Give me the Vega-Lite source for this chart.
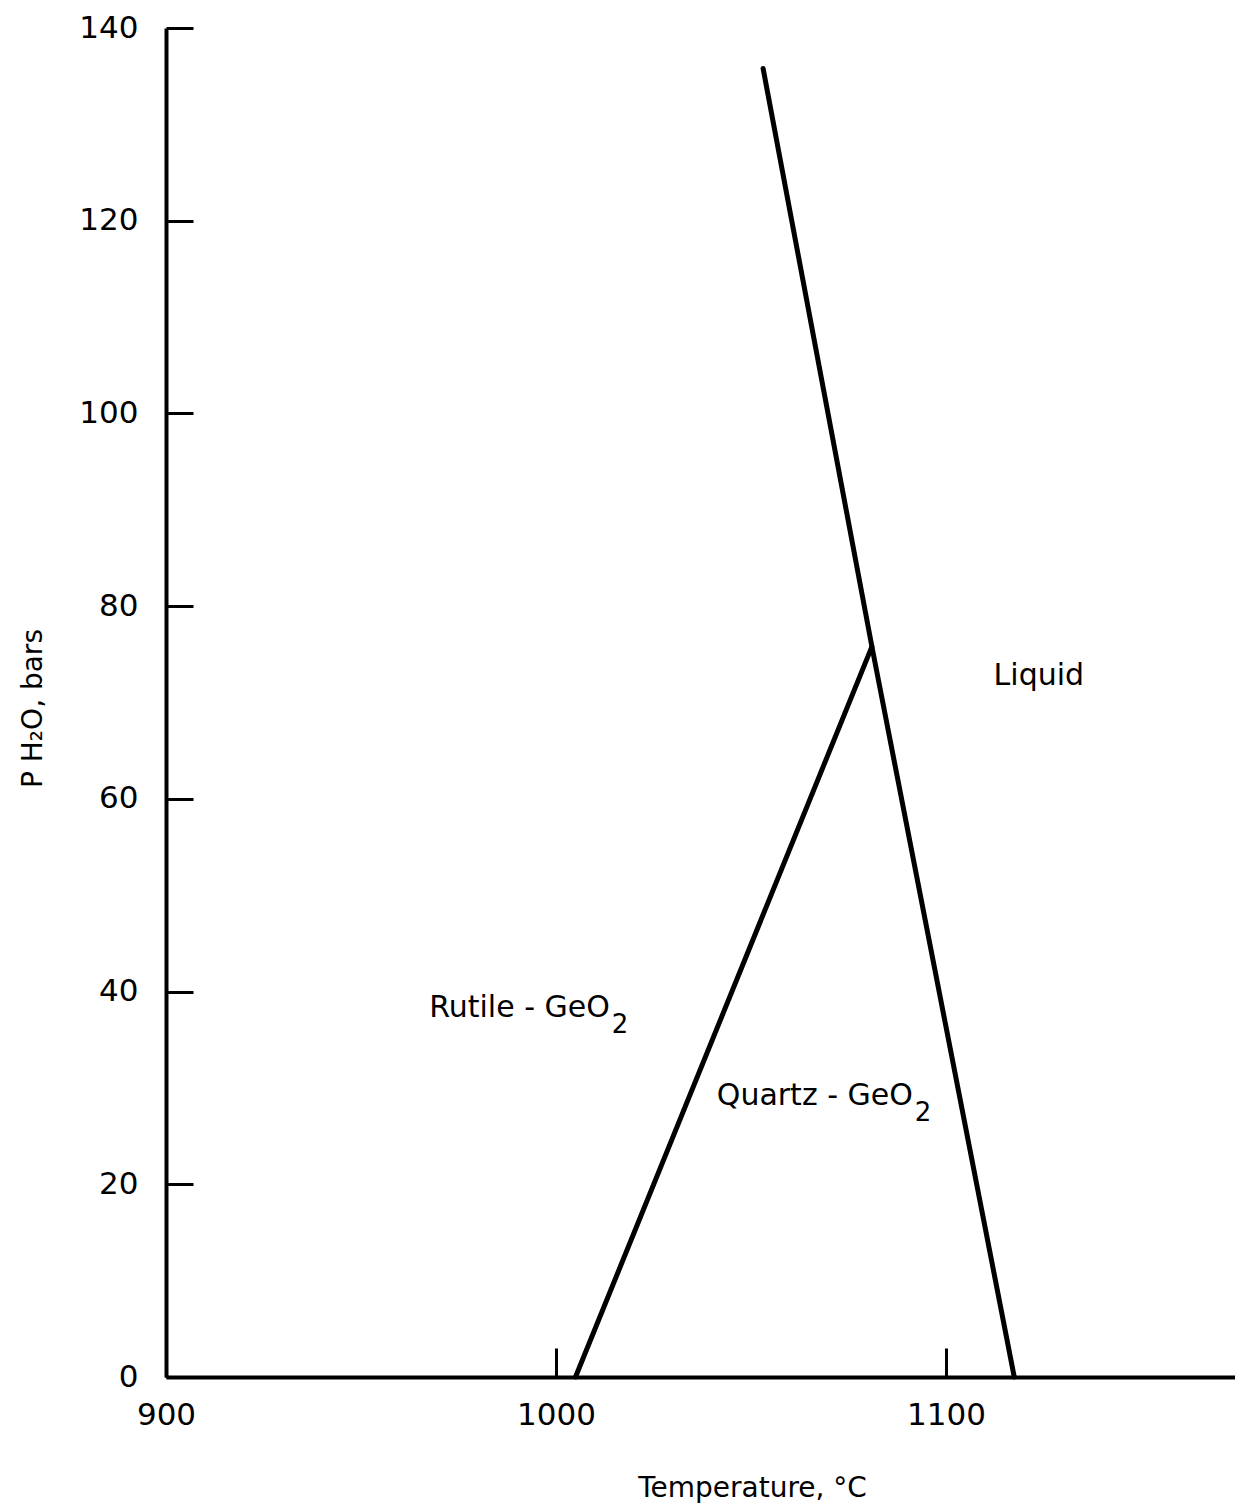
{
  "$schema": "https://vega.github.io/schema/vega-lite/v6.json",
  "width": 1069,
  "height": 1349,
  "autosize": {"type": "none"},
  "padding": {"left": 166, "top": 28, "right": 0, "bottom": 128},
  "background": "white",
  "config": {
    "view": {"stroke": null},
    "font": "DejaVu Sans",
    "axis": {
      "domainColor": "black",
      "domainWidth": 4,
      "tickColor": "black",
      "tickWidth": 3,
      "grid": false,
      "labelFont": "DejaVu Sans",
      "labelFontSize": 31,
      "labelColor": "black",
      "titleFont": "DejaVu Sans",
      "titleFontSize": 28,
      "titleFontWeight": "normal",
      "titleColor": "black"
    }
  },
  "datasets": {
    "lines": [
      {"boundary": "liquidus", "order": 1, "t": 1053.1, "p": 135.8},
      {"boundary": "liquidus", "order": 2, "t": 1081.0, "p": 75.8},
      {"boundary": "liquidus", "order": 3, "t": 1117.5, "p": 0},
      {"boundary": "rutile-quartz", "order": 1, "t": 1005.0, "p": 0},
      {"boundary": "rutile-quartz", "order": 2, "t": 1081.0, "p": 75.8}
    ],
    "labels": [
      {"main": "Liquid", "sub": "", "t": 1135.4, "p": 71.8},
      {"main": "Rutile - GeO", "sub": "2", "t": 1013.8, "p": 37.4},
      {"main": "Quartz - GeO", "sub": "2", "t": 1091.5, "p": 28.2}
    ]
  },
  "layer": [
    {
      "data": {"name": "lines"},
      "mark": {"type": "line", "color": "black", "strokeWidth": 5, "strokeCap": "round", "strokeJoin": "round"},
      "encoding": {
        "x": {
          "field": "t", "type": "quantitative",
          "scale": {"domain": [900, 1174.1], "nice": false, "zero": false},
          "axis": {
            "values": [900, 1000, 1100],
            "format": "d",
            "tickSize": -29,
            "labelPadding": 52,
            "labelFlush": false,
            "title": "Temperature, °C",
            "titleX": 586,
            "titleY": 119,
            "titleBaseline": "alphabetic",
            "titleAnchor": "middle"
          }
        },
        "y": {
          "field": "p", "type": "quantitative",
          "scale": {"domain": [0, 140], "nice": false},
          "axis": {
            "values": [0, 20, 40, 60, 80, 100, 120, 140],
            "format": "d",
            "tickSize": -27,
            "labelPadding": 55,
            "title": "P H₂O, bars",
            "titleX": -125,
            "titleY": 680,
            "titleBaseline": "alphabetic",
            "titleAnchor": "middle"
          }
        },
        "detail": {"field": "boundary"},
        "order": {"field": "order"}
      }
    },
    {
      "data": {"name": "labels"},
      "mark": {"type": "text", "align": "right", "baseline": "alphabetic", "font": "DejaVu Sans", "fontSize": 30, "color": "black"},
      "encoding": {
        "x": {"field": "t", "type": "quantitative"},
        "y": {"field": "p", "type": "quantitative"},
        "text": {"field": "main"}
      }
    },
    {
      "data": {"name": "labels"},
      "mark": {"type": "text", "align": "left", "baseline": "alphabetic", "dx": 2, "dy": 16, "font": "DejaVu Sans", "fontSize": 26, "color": "black"},
      "encoding": {
        "x": {"field": "t", "type": "quantitative"},
        "y": {"field": "p", "type": "quantitative"},
        "text": {"field": "sub"}
      }
    }
  ]
}
